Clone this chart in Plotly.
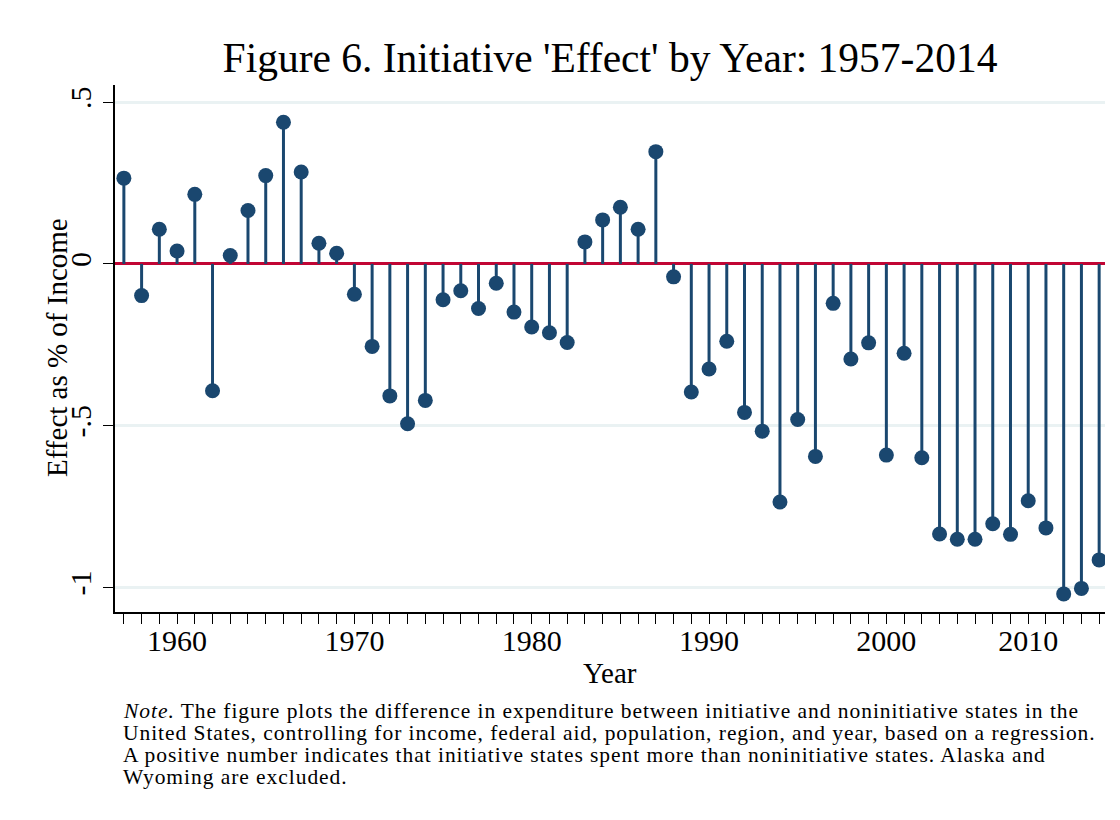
import plotly.graph_objects as go

# Years in the data (2001 and 2003 are absent; points are evenly spaced by observation)
years = [1957, 1958, 1959, 1960, 1961, 1962, 1963, 1964, 1965, 1966,
         1967, 1968, 1969, 1970, 1971, 1972, 1973, 1974, 1975, 1976,
         1977, 1978, 1979, 1980, 1981, 1982, 1983, 1984, 1985, 1986,
         1987, 1988, 1989, 1990, 1991, 1992, 1993, 1994, 1995, 1996,
         1997, 1998, 1999, 2000, 2002, 2004, 2005, 2006, 2007, 2008,
         2009, 2010, 2011, 2012, 2013, 2014]

effect = [0.265, -0.098, 0.107, 0.040, 0.215, -0.392, 0.026, 0.165, 0.273, 0.438,
          0.284, 0.064, 0.033, -0.094, -0.255, -0.408, -0.494, -0.422, -0.111, -0.083,
          -0.138, -0.060, -0.149, -0.195, -0.213, -0.243, 0.068, 0.136, 0.175, 0.107,
          0.347, -0.040, -0.396, -0.325, -0.239, -0.459, -0.517, -0.736, -0.481, -0.595,
          -0.122, -0.294, -0.244, -0.591, -0.276, -0.599, -0.835, -0.851, -0.851, -0.803,
          -0.836, -0.732, -0.816, -1.020, -1.003, -0.915]

labeled_years = [1960, 1970, 1980, 1990, 2000, 2010]
y_ticks = [-1, -0.5, 0, 0.5]
y_ticktext = ["-1", "-.5", "0", ".5"]

title_text = "Figure 6. Initiative 'Effect' by Year: 1957-2014"
x_title = "Year"
y_title = "Effect as % of Income"
note_lines = [
    "<i>Note.</i> The figure plots the difference in expenditure between initiative and noninitiative states in the",
    "United States, controlling for income, federal aid, population, region, and year, based on a regression.",
    "A positive number indicates that initiative states spent more than noninitiative states. Alaska and",
    "Wyoming are excluded.",
]

cats = [str(y) for y in years]
NAVY = "#1a476f"
FONT = "Liberation Serif"

# page offset: browser body margin of 8 px
W, H = 1112, 812
PL, PT, PR, PB = 115, 85, 1105, 612   # plot area in page pixels
OFF = 8


def px(xp):
    return (xp - PL) / (PR - PL)


def py(yp):
    return (PB - yp) / (PB - PT)


stem_x, stem_y = [], []
for c, v in zip(cats, effect):
    stem_x += [c, c, None]
    stem_y += [0, v, None]

fig = go.Figure()
fig.add_trace(go.Scatter(x=stem_x, y=stem_y, mode="lines",
                         line=dict(color=NAVY, width=3), hoverinfo="skip",
                         showlegend=False))
fig.add_trace(go.Scatter(x=cats, y=effect, mode="markers",
                         marker=dict(color=NAVY, size=15, line=dict(width=0)),
                         showlegend=False))

fig.update_xaxes(type="category", categoryorder="array", categoryarray=cats,
                 range=[-0.5, 55.33], automargin=False,
                 tickvals=cats,
                 ticktext=[str(y) if y in labeled_years else "" for y in years],
                 ticks="outside", ticklen=10, tickwidth=1.3, tickcolor="black",
                 ticklabelstandoff=-9,
                 showline=True, linecolor="black", linewidth=1.5,
                 showgrid=False, zeroline=False,
                 tickfont=dict(family=FONT, size=30, color="black"))
fig.update_yaxes(range=[-1.076, 0.553], automargin=False,
                 tickvals=y_ticks, ticktext=y_ticktext, tickangle=-90,
                 ticks="outside", ticklen=10, tickwidth=1.3, tickcolor="black",
                 showline=True, linecolor="black", linewidth=1.5,
                 showgrid=True, gridcolor="#eaf2f3", gridwidth=2.5,
                 zeroline=True, zerolinecolor="#c10534", zerolinewidth=2.5,
                 tickfont=dict(family=FONT, size=30, color="black"))

annotations = [
    dict(text=x_title, xref="paper", yref="paper", x=0.5, y=py(673),
         xanchor="center", yanchor="middle", showarrow=False,
         font=dict(family=FONT, size=29, color="black")),
    dict(text=y_title, xref="paper", yref="paper", x=px(57), y=py(348),
         xanchor="center", yanchor="middle", showarrow=False, textangle=-90,
         font=dict(family=FONT, size=29, color="black")),
]
for i, line in enumerate(note_lines):
    annotations.append(dict(
        text='<span style="letter-spacing:0.95px">' + line + '</span>',
        xref="paper", yref="paper",
        x=px(121), y=py(711 + 22 * i),
        xanchor="left", yanchor="middle", showarrow=False, align="left",
        font=dict(family=FONT, size=21.5, color="black")))

fig.update_layout(
    width=W, height=H,
    margin=dict(l=PL - OFF, r=W - (PR - OFF), t=PT - OFF, b=H - (PB - OFF)),
    paper_bgcolor="white", plot_bgcolor="white",
    title=dict(text=title_text, x=0.5, xref="paper", xanchor="center",
               y=1 - (57 - OFF) / H, yanchor="middle",
               font=dict(family=FONT, size=41.5, color="black")),
    annotations=annotations,
)

fig.write_html("out.html")
